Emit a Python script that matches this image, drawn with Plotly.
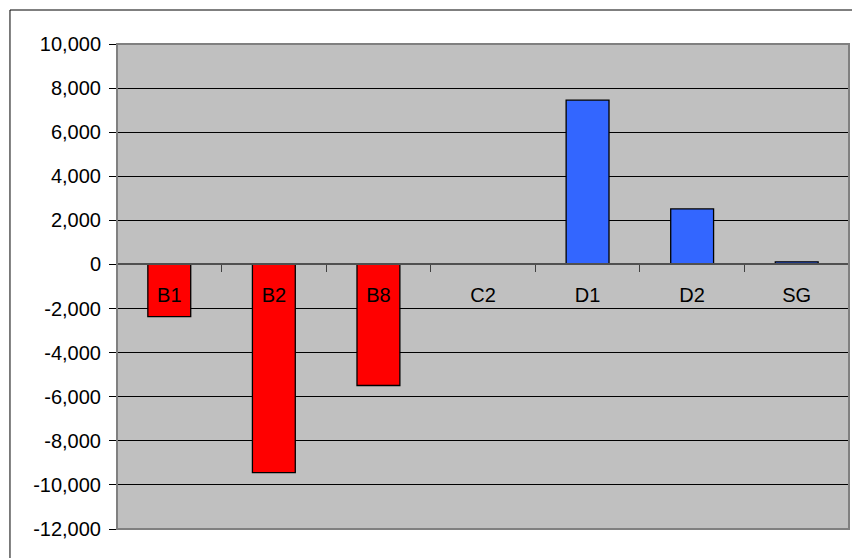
import plotly.graph_objects as go

categories = ["B1", "B2", "B8", "C2", "D1", "D2", "SG"]
values = [-2370, -9440, -5490, 0, 7450, 2520, 120]
y_ticks = list(range(-12000, 10001, 2000))
y_tick_text = [f"{v:,}" for v in y_ticks]  # plain hyphen for negatives

Y_MIN, Y_MAX = -12000, 10000
NEG_COLOR = "#FF0000"
POS_COLOR = "#3366FF"

bar_colors = [NEG_COLOR if v < 0 else POS_COLOR for v in values]

fig = go.Figure(
    go.Bar(
        x=categories,
        y=values,
        marker=dict(color=bar_colors, line=dict(color="#000000", width=1.3)),
        width=0.41,
        hoverinfo="x+y",
    )
)

# category axis sits on the zero line
zero_pos = (0 - Y_MIN) / (Y_MAX - Y_MIN)

font = dict(family="Liberation Sans, Arial, sans-serif", size=20, color="#000000")

fig.update_layout(
    width=852,
    height=558,
    margin=dict(l=117, r=3, t=44, b=29),
    paper_bgcolor="#FFFFFF",
    plot_bgcolor="#C0C0C0",
    font=font,
    showlegend=False,
    xaxis=dict(
        type="category",
        anchor="free",
        position=zero_pos,
        showline=True,
        linecolor="#505050",
        linewidth=1.5,
        ticks="outside",
        tickson="boundaries",
        ticklen=7,
        tickcolor="#404040",
        showgrid=False,
        zeroline=False,
        ticklabelstandoff=13,
        range=[-0.5, len(categories) - 0.5],
    ),
    yaxis=dict(
        range=[Y_MIN, Y_MAX],
        tickvals=y_ticks,
        ticktext=y_tick_text,
        ticks="outside",
        ticklen=7,
        tickcolor="#000000",
        showline=True,
        linecolor="#404040",
        linewidth=1,
        showgrid=True,
        gridcolor="#000000",
        gridwidth=1,
        zeroline=False,
        ticklabelstandoff=4,
    ),
    shapes=[
        # plot-area frame
        dict(type="rect", xref="paper", yref="paper", x0=0, x1=1, y0=0, y1=1,
             line=dict(color="#808080", width=2), layer="above"),
        # chart-area frame
        dict(type="rect", xref="paper", yref="paper",
             x0=-0.1462, x1=1.2, y0=-0.2, y1=1.0701,
             line=dict(color="#000000", width=1)),
    ],
)

fig.write_html("out.html")
